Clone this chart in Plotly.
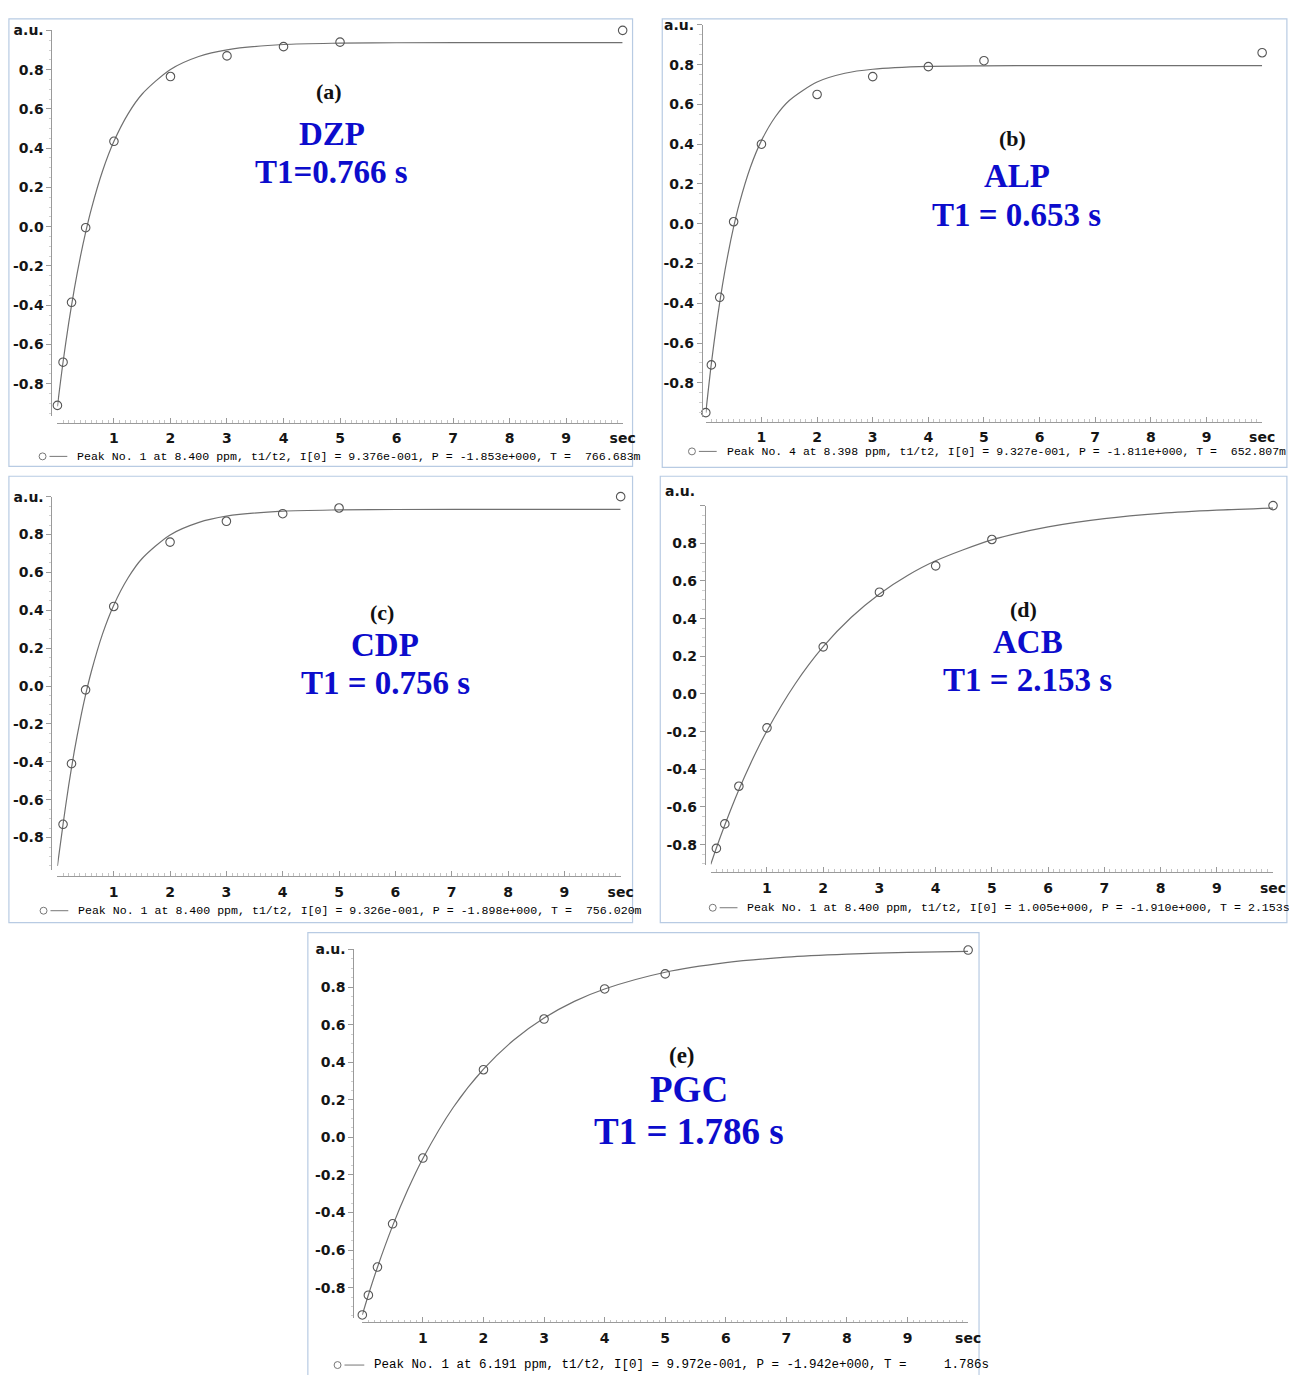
import plotly.graph_objects as go

W, H = 1289, 1375

# ---------------- data ----------------
panel_tags = ["(a)", "(b)", "(c)", "(d)", "(e)"]
compounds = ["DZP", "ALP", "CDP", "ACB", "PGC"]
t1_texts = ["T1=0.766 s", "T1 = 0.653 s", "T1 = 0.756 s", "T1 = 2.153 s", "T1 = 1.786 s"]
footers = [
    "Peak No. 1 at 8.400 ppm, t1/t2, I[0] = 9.376e-001, P = -1.853e+000, T =  766.683m",
    "Peak No. 4 at 8.398 ppm, t1/t2, I[0] = 9.327e-001, P = -1.811e+000, T =  652.807m",
    "Peak No. 1 at 8.400 ppm, t1/t2, I[0] = 9.326e-001, P = -1.898e+000, T =  756.020m",
    "Peak No. 1 at 8.400 ppm, t1/t2, I[0] = 1.005e+000, P = -1.910e+000, T = 2.153s",
    "Peak No. 1 at 6.191 ppm, t1/t2, I[0] = 9.972e-001, P = -1.942e+000, T =     1.786s",
]

# measured points (delay time in s, intensity in a.u.)
t_a = [0, 0.1, 0.25, 0.5, 1, 2, 3, 4, 5, 10]
y_a = [-0.91, -0.69, -0.385, -0.005, 0.435, 0.765, 0.87, 0.917, 0.94, 1.0]
t_b = [0, 0.1, 0.25, 0.5, 1, 2, 3, 4, 5, 10]
y_b = [-0.95, -0.71, -0.37, 0.01, 0.40, 0.65, 0.74, 0.79, 0.82, 0.86]
t_c = [0.1, 0.25, 0.5, 1, 2, 3, 4, 5, 10]
y_c = [-0.73, -0.41, -0.02, 0.42, 0.76, 0.87, 0.91, 0.94, 1.0]
t_d = [0.1, 0.25, 0.5, 1, 2, 3, 4, 5, 10]
y_d = [-0.82, -0.69, -0.49, -0.18, 0.25, 0.54, 0.68, 0.82, 1.0]
t_e = [0, 0.1, 0.25, 0.5, 1, 2, 3, 4, 5, 10]
y_e = [-0.945, -0.84, -0.69, -0.46, -0.11, 0.36, 0.63, 0.79, 0.87, 0.997]

# fitted curves
fit_t_fast = [0, 0.1, 0.2, 0.3, 0.4, 0.5, 0.6, 0.8, 1.0, 1.25, 1.5, 2.0, 2.5, 3, 4, 5, 6, 8, 10]
fit_a = [-0.915, -0.689, -0.490, -0.315, -0.162, -0.028, 0.090, 0.285, 0.435, 0.575, 0.676,
         0.801, 0.867, 0.901, 0.928, 0.935, 0.937, 0.938, 0.938]
fit_b = [-0.950, -0.702, -0.490, -0.307, -0.151, -0.016, 0.099, 0.283, 0.418, 0.538, 0.620,
         0.713, 0.757, 0.777, 0.791, 0.794, 0.795, 0.795, 0.795]
fit_c = [-0.950, -0.730, -0.524, -0.344, -0.186, -0.047, 0.074, 0.274, 0.427, 0.569, 0.672,
         0.798, 0.863, 0.897, 0.923, 0.930, 0.932, 0.933, 0.933]
fit_t_slow = [0, 0.1, 0.25, 0.5, 0.75, 1.0, 1.5, 2.0, 2.5, 3, 3.5, 4, 5, 6, 7, 8, 9, 10]
fit_d = [-0.905, -0.818, -0.696, -0.509, -0.343, -0.195, 0.053, 0.251, 0.407, 0.531, 0.629,
         0.707, 0.818, 0.887, 0.931, 0.959, 0.976, 0.987]
fit_e = [-0.945, -0.839, -0.691, -0.471, -0.279, -0.112, 0.159, 0.363, 0.518, 0.635, 0.724,
         0.790, 0.879, 0.930, 0.959, 0.975, 0.985, 0.990]

x_tickvals = [1, 2, 3, 4, 5, 6, 7, 8, 9, 10]
x_ticktext = ["1", "2", "3", "4", "5", "6", "7", "8", "9", "sec"]
y_tickvals = [-0.8, -0.6, -0.4, -0.2, 0.0, 0.2, 0.4, 0.6, 0.8, 1.0]
y_ticktext = ["-0.8", "-0.6", "-0.4", "-0.2", "0.0", "0.2", "0.4", "0.6", "0.8", "a.u."]

points = [(t_a, y_a), (t_b, y_b), (t_c, y_c), (t_d, y_d), (t_e, y_e)]
fits = [(fit_t_fast, fit_a), (fit_t_fast, fit_b), (fit_t_fast, fit_c),
        (fit_t_slow, fit_d), (fit_t_slow, fit_e)]

# ---------------- layout geometry (pixels) ----------------
def px(x):
    return x / W

def py(y):
    return 1 - y / H

geom = [
    dict(xd=(58, 629), yd=(22.5, 410), yr=(-0.962, 1.0), yax=52, xax=417,
         box=(9, 11, 639, 461), tag=(332, 84), name=(335, 127), t1=(335, 165),
         tsz=33, gsz=22, circ=(43, 451), lin=(50, 68), ftx=76, fsz=11.6),
    dict(xd=(713, 1275), yd=(17, 411), yr=(-0.97, 1.0), yax=709, xax=416,
         box=(669, 11, 1300, 462), tag=(1023, 131), name=(1027, 169), t1=(1027, 208),
         tsz=33, gsz=22, circ=(699, 446), lin=(706, 724), ftx=732, fsz=11.5),
    dict(xd=(58, 627), yd=(491.5, 867), yr=(-0.971, 1.0), yax=52, xax=873,
         box=(9, 471, 639, 920), tag=(386, 608), name=(389, 641), t1=(389, 679),
         tsz=33, gsz=22, circ=(44, 908), lin=(51, 69), ftx=77, fsz=11.6),
    dict(xd=(718, 1286), yd=(500.5, 862), yr=(-0.908, 1.0), yax=712, xax=869,
         box=(667, 471, 1300, 920), tag=(1034, 605), name=(1038, 638), t1=(1038, 676),
         tsz=33, gsz=22, circ=(720, 905), lin=(727, 745), ftx=753, fsz=11.6),
    dict(xd=(366, 978), yd=(947, 1318), yr=(-0.963, 1.0), yax=357, xax=1322,
         box=(311, 930, 989, 1390), tag=(689, 1054), name=(696, 1088), t1=(696, 1130),
         tsz=37, gsz=23, circ=(341, 1365), lin=(348, 368), ftx=376, fsz=12.5),
]

BLUE = "#0c0ccc"
AXC = "#9a9a9a"
tickfont = dict(family="DejaVu Sans", size=14, color="#151515", weight="bold")

fig = go.Figure()
shapes, annotations = [], []
layout = dict(width=W, height=H, autosize=False, margin=dict(l=0, r=0, t=0, b=0),
              paper_bgcolor="white", plot_bgcolor="rgba(0,0,0,0)", showlegend=False)

for i in range(5):
    g = geom[i]
    n = i + 1
    xa = "x" if n == 1 else f"x{n}"
    ya = "y" if n == 1 else f"y{n}"
    ft, fy = fits[i]
    pt, pv = points[i]
    fig.add_trace(go.Scatter(x=ft, y=fy, mode="lines", xaxis=xa, yaxis=ya,
                             line=dict(color="#707070", width=1.2, shape="spline", smoothing=0.8),
                             hoverinfo="skip"))
    fig.add_trace(go.Scatter(x=pt, y=pv, mode="markers", xaxis=xa, yaxis=ya, cliponaxis=False,
                             marker=dict(symbol="circle-open", size=8.5,
                                         color="#555555", line=dict(width=1.1, color="#555555"))))
    ytext = list(y_ticktext)
    if i == 3:
        ytext[-1] = ""
    layout["xaxis" if n == 1 else f"xaxis{n}"] = dict(
        domain=[px(g["xd"][0]), px(g["xd"][1])], range=[0, 10],
        anchor="free", position=py(g["xax"]), showgrid=False, zeroline=False,
        showline=True, linecolor=AXC, linewidth=1,
        tickvals=x_tickvals, ticktext=x_ticktext, ticks="inside", ticklen=5,
        tickcolor=AXC, tickfont=tickfont, ticklabelstandoff=3,
        minor=dict(dtick=0.1, ticks="inside", ticklen=2.5, tickcolor="#c4c4c4"),
        fixedrange=True)
    layout["yaxis" if n == 1 else f"yaxis{n}"] = dict(
        domain=[py(g["yd"][1]), py(g["yd"][0])], range=list(g["yr"]),
        anchor="free", position=px(g["yax"]), showgrid=False, zeroline=False,
        showline=True, linecolor=AXC, linewidth=1,
        tickvals=y_tickvals, ticktext=ytext, ticks="outside", ticklen=5,
        tickcolor=AXC, tickfont=tickfont,
        minor=dict(dtick=0.05, ticks="outside", ticklen=2.5, tickcolor="#cfcfcf"),
        fixedrange=True)

    # panel frame
    bx = g["box"]
    shapes.append(dict(type="rect", xref="paper", yref="paper",
                       x0=px(bx[0]), x1=px(bx[2]), y0=py(bx[3]), y1=py(bx[1]),
                       line=dict(color="#b8cbe3", width=1.2), fillcolor="rgba(0,0,0,0)",
                       layer="below"))
    # footer legend symbol
    cx, cy = g["circ"]
    shapes.append(dict(type="circle", xref="paper", yref="paper",
                       x0=px(cx - 3.5), x1=px(cx + 3.5), y0=py(cy + 3.5), y1=py(cy - 3.5),
                       line=dict(color="#777777", width=1)))
    shapes.append(dict(type="line", xref="paper", yref="paper",
                       x0=px(g["lin"][0]), x1=px(g["lin"][1]), y0=py(cy), y1=py(cy),
                       line=dict(color="#777777", width=1)))
    annotations.append(dict(xref="paper", yref="paper", x=px(g["ftx"]), y=py(cy),
                            xanchor="left", yanchor="middle", showarrow=False,
                            text=footers[i].replace(" ", "\u00a0"),
                            font=dict(family="Liberation Mono", size=g["fsz"], color="#000000")))
    # titles
    annotations.append(dict(xref="paper", yref="paper", x=px(g["tag"][0]), y=py(g["tag"][1]),
                            xanchor="center", yanchor="middle", showarrow=False,
                            text="<b>" + panel_tags[i] + "</b>",
                            font=dict(family="Liberation Serif", size=g["gsz"], color="#111111")))
    annotations.append(dict(xref="paper", yref="paper", x=px(g["name"][0]), y=py(g["name"][1]),
                            xanchor="center", yanchor="middle", showarrow=False,
                            text="<b>" + compounds[i] + "</b>",
                            font=dict(family="Liberation Serif", size=g["tsz"], color=BLUE)))
    annotations.append(dict(xref="paper", yref="paper", x=px(g["t1"][0]), y=py(g["t1"][1]),
                            xanchor="center", yanchor="middle", showarrow=False,
                            text="<b>" + t1_texts[i] + "</b>",
                            font=dict(family="Liberation Serif", size=g["tsz"], color=BLUE)))

# panel (d): unit label sits above the axis top
annotations.append(dict(xref="paper", yref="paper", x=px(704), y=py(486),
                        xanchor="right", yanchor="middle", showarrow=False,
                        text="a.u.", font=tickfont))

layout["shapes"] = shapes
layout["annotations"] = annotations
fig.update_layout(**layout)
fig.write_html("out.html")
